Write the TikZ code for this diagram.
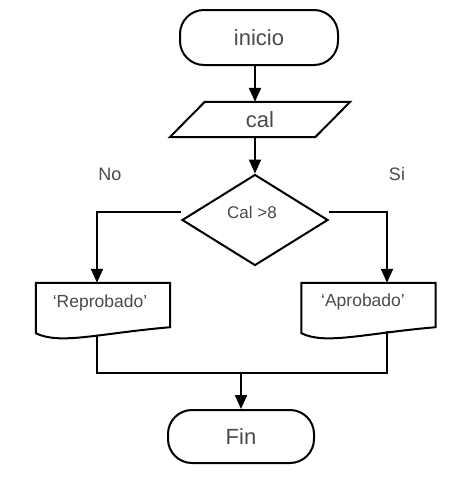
\documentclass[tikz,border=0pt]{standalone}
\usepackage{fontspec}
\setmainfont{Liberation Sans}
\usetikzlibrary{shapes.geometric,arrows.meta,calc}
\definecolor{txtgray}{HTML}{4A4A4A}
\tikzset{
  shp/.style={draw=black, line width=2pt},
  term/.style={shp, rectangle, rounded corners=24pt, inner sep=0pt, text=txtgray, font=\fontsize{22}{26}\selectfont},
  iobox/.style={rectangle, draw=none, inner sep=0pt, minimum width=145pt, minimum height=35pt, text=txtgray, font=\fontsize{22}{26}\selectfont},
  decis/.style={shp, diamond, inner sep=0pt, minimum width=146pt, minimum height=91pt},
  docbox/.style={rectangle, draw=none, inner sep=0pt, minimum width=134pt, minimum height=50pt},
  lbl/.style={text=txtgray, inner sep=0pt, font=\fontsize{17.5}{20}\selectfont},
  arr/.style={line width=2.2pt, -{Triangle[width=12pt,length=14pt]}},
  conn/.style={line width=2.2pt}
}
\newcommand\mydocpath[1]{%
  \draw[shp] ($(#1.south west)$) -- (#1.north west) -- (#1.north east) -- ($(#1.south east)+(0,-6)$)
    .. controls ($(#1.south west)+(64,0)$) and ($(#1.south west)+(24,12)$) .. cycle;}
\begin{document}
\begin{tikzpicture}[x=1pt,y=-1pt]
\useasboundingbox (0,0) rectangle (457,480);
% shapes
\node[term, minimum width=158pt, minimum height=55pt] (ini) at (259,37.5) {inicio};
\node[iobox] (cal) at (260,119.5) {cal};
\draw[shp] ([xshift=17.5pt]cal.north west) -- ([xshift=17.5pt]cal.north east)
  -- ([xshift=-17.5pt]cal.south east) -- ([xshift=-17.5pt]cal.south west) -- cycle;
\node[decis] (dia) at (255,220) {};
\node[lbl, font=\fontsize{17}{20}\selectfont] (diat) at (252,212) {Cal >8};
\node[docbox] (rep) at (103,308) {};
\mydocpath{rep}
\node[lbl] (rept) at (100,303) {‘Reprobado’};
\node[docbox] (apr) at (368.5,308) {};
\mydocpath{apr}
\node[lbl] (aprt) at (363,302) {‘Aprobado’};
\node[term, minimum width=146pt, minimum height=53pt] (fin) at (241,436.5) {Fin};
\node[lbl, font=\fontsize{18}{20}\selectfont] (no) at (110,174) {No};
\node[lbl, font=\fontsize{18}{20}\selectfont] (si) at (397,174) {Si};
% helper coordinates
\coordinate (repx) at (97,0);
\coordinate (aprx) at (387,0);
\coordinate (merge) at (241,373);
% connectors
\draw[arr] (ini.south -| dia.north) -- (cal.north -| dia.north);
\draw[arr] (cal.south -| dia.north) -- (dia.north);
\draw[arr] ([yshift=8pt]dia.west) -| (rep.north -| repx);
\draw[arr] ([yshift=8pt]dia.east) -| (apr.north -| aprx);
\draw[conn] ($(rep.south -| repx)+(0,3)$) |- (merge);
\draw[conn] ($(apr.south -| aprx)+(0,-2)$) |- (merge);
\draw[arr] (merge) -- (fin.north);
\end{tikzpicture}
\end{document}
